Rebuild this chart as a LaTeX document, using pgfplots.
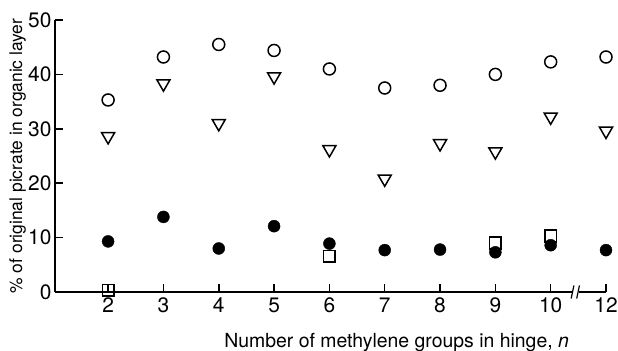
\documentclass[border=0pt]{standalone}
\usepackage{fontspec}
\setmainfont{TeX Gyre Heros}
\usepackage{pgfplots}
\pgfplotsset{compat=1.18}
\begin{document}
\begin{tikzpicture}[x=1bp,y=1bp]
\begin{axis}[
  at={(0,0)}, anchor=origin,
  scale only axis, width=551bp, height=272bp,
  xmin=1.04, xmax=11, ymin=0, ymax=50,
  axis x line=bottom, axis y line=left,
  axis line style={-, line width=1.6pt},
  tick style={line width=1.5pt, black},
  major tick length=8bp,
  tick align=inside,
  xtick={2,3,4,5,6,7,8,9,10,11},
  xticklabels={2,3,4,5,6,7,8,9,10,12},
  ytick={0,10,20,30,40,50},
  /pgf/number format/assume math mode=true,
  tick label style={font=\fontsize{21}{21}\selectfont},
  xticklabel style={yshift=-2bp},
  yticklabel style={xshift=0bp},
  xlabel={Number of methylene groups in hinge, \textit{n}},
  xlabel style={font=\fontsize{19.5}{20}\selectfont, at={(axis description cs:0.62,0)}, anchor=base, yshift=-55bp},
  ylabel={\% of original picrate in organic layer},
  ylabel style={font=\fontsize{17.5}{18}\selectfont, at={(axis description cs:-0.068,0.5)}, anchor=center},
  clip=false,
]
\addplot[only marks, mark=o, mark size=6bp, mark options={line width=1.5pt, black}] coordinates {
(2,35.3) (3,43.2) (4,45.5) (5,44.4) (6,41.0) (7,37.5) (8,38.0) (9,40.0) (10,42.3) (11,43.2)};
\addplot[only marks, mark=triangle, mark size=7.5bp, mark options={rotate=180, line width=1.5pt, black}] coordinates {
(2,28.6) (3,38.3) (4,31.0) (5,39.6) (6,26.2) (7,20.8) (8,27.3) (9,25.8) (10,32.2) (11,29.6)};
\addplot[only marks, mark=square, mark size=5.8bp, mark options={line width=1.5pt, black, fill=white}] coordinates {
(2,0.3) (6,6.6) (9,9.0) (10,10.3)};
\addplot[only marks, mark=*, mark size=6bp, mark options={black, fill=black}] coordinates {
(2,9.3) (3,13.8) (4,8.0) (5,12.1) (6,8.9) (7,7.7) (8,7.8) (9,7.3) (10,8.6) (11,7.7)};
\fill[white] (axis cs:10.40,-0.9) rectangle (axis cs:10.52,0.9);
\draw[line width=1.2pt] (axis cs:10.37,-1.2) -- (axis cs:10.42,1.2);
\draw[line width=1.2pt] (axis cs:10.47,-1.2) -- (axis cs:10.52,1.2);
\end{axis}
\pgfresetboundingbox
\path (-55,-58) rectangle (563,292);
\end{tikzpicture}
\end{document}
